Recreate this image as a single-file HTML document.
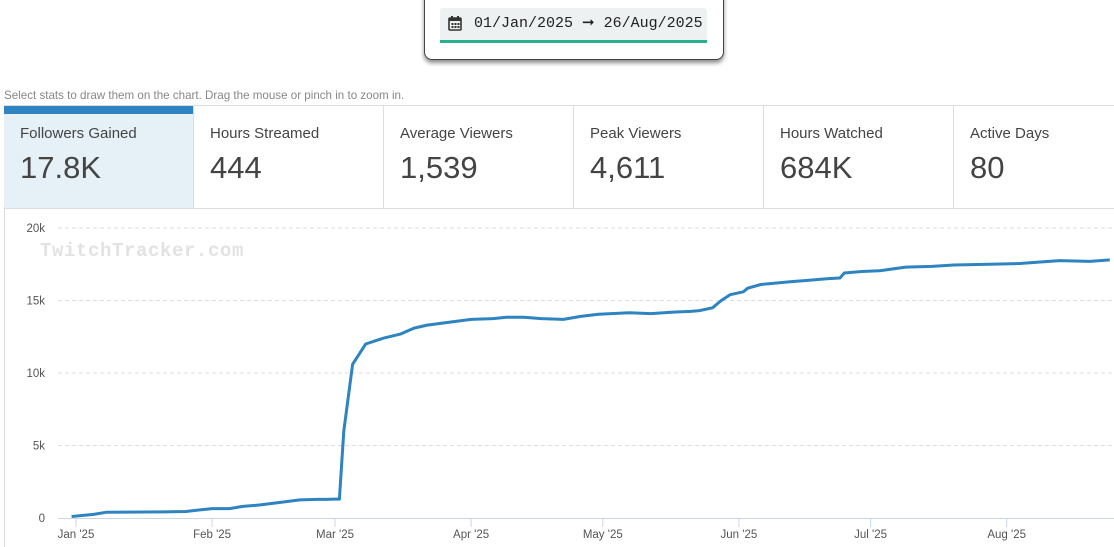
<!DOCTYPE html>
<html><head><meta charset="utf-8"><style>
body{margin:0;width:1114px;height:547px;overflow:hidden;background:#fff;font-family:"Liberation Sans",sans-serif;position:relative}
.picker{position:absolute;left:424px;top:-6px;width:298px;height:64px;border:1px solid #444;border-radius:0 0 8px 8px;box-shadow:0 3px 4px rgba(0,0,0,.45);background:#fff}
.field{position:absolute;left:15px;top:13px;width:267px;height:32px;background:#eef1f1;border-bottom:3px solid #2bb08f;border-radius:3px 3px 0 0;font-family:"Liberation Mono",monospace;font-size:15px;color:#222;line-height:32px}
.hint{position:absolute;left:4px;top:89px;font-size:11.6px;color:#888}
.cards{position:absolute;left:4px;top:105px;width:1110px;height:102px;border-top:1px solid #ddd;border-bottom:1px solid #ddd;display:flex}
.card{width:190px;border-right:1px solid #ddd;position:relative;box-sizing:border-box}
.card .t{position:absolute;left:16px;top:19px;font-size:15px;color:#444}
.card .v{position:absolute;left:16px;top:44px;font-size:31px;color:#444}
.card.sel{background:#e6f0f7}
.card.sel:before{content:"";position:absolute;left:0;top:0;right:0;height:8px;background:#2e84c0}
.chartbox{position:absolute;left:4px;top:207px;width:1110px;height:340px;border-left:1px solid #ddd}
</style></head><body>
<div class="picker">
<div class="field">
<svg style="position:absolute;left:8px;top:8px" width="14" height="15" viewBox="0 0 14 15"><rect x="1" y="2" width="12" height="12" rx="1" fill="none" stroke="#333" stroke-width="1.6"/><rect x="1" y="2" width="12" height="3" fill="#333"/><rect x="3" y="0" width="2" height="3" fill="#333"/><rect x="9" y="0" width="2" height="3" fill="#333"/><g fill="#333"><rect x="3.5" y="7" width="2" height="2"/><rect x="6.5" y="7" width="2" height="2"/><rect x="9.5" y="7" width="2" height="2"/><rect x="3.5" y="10" width="2" height="2"/><rect x="6.5" y="10" width="2" height="2"/><rect x="9.5" y="10" width="2" height="2"/></g></svg>
<span style="position:absolute;left:34px">01/Jan/2025 ➞ 26/Aug/2025</span></div></div>
<div class="hint">Select stats to draw them on the chart. Drag the mouse or pinch in to zoom in.</div>
<div class="cards">
<div class="card sel"><div class="t">Followers Gained</div><div class="v">17.8K</div></div>
<div class="card"><div class="t">Hours Streamed</div><div class="v">444</div></div>
<div class="card"><div class="t">Average Viewers</div><div class="v">1,539</div></div>
<div class="card"><div class="t">Peak Viewers</div><div class="v">4,611</div></div>
<div class="card"><div class="t">Hours Watched</div><div class="v">684K</div></div>
<div class="card" style="border-right:none;width:160px"><div class="t">Active Days</div><div class="v">80</div></div>
</div>
<div class="chartbox"></div>
<svg id="chart" width="1114" height="547" style="position:absolute;left:0;top:0"></svg>
<script>
const days=[-1,4,7,20,25,28,31,35,38,42,47,51,55,60,57,59,61,63,66,70,74,77,80,85,90,95,98,102,106,111,115,119,122,126,131,136,140,142,145,147,149,152,153,156,163,167,171,174,175,179,183,189,195,200,208,215,224,231,235.5];
const values=[0.1,0.25,0.4,0.42,0.45,0.55,0.65,0.65,0.8,0.9,1.1,1.25,1.28,1.3,1.28,1.3,6,10.6,12,12.4,12.7,13.1,13.3,13.5,13.7,13.75,13.85,13.85,13.75,13.7,13.9,14.05,14.1,14.15,14.1,14.2,14.25,14.3,14.5,15,15.4,15.6,15.85,16.1,16.3,16.4,16.5,16.55,16.9,17,17.05,17.3,17.35,17.45,17.5,17.55,17.75,17.7,17.8];
const yTicks=[0,5,10,15,20];
const yTickLabels=["0","5k","10k","15k","20k"];
const monthDays=[0,31,59,90,120,151,181,212];
const monthLabels=["Jan '25","Feb '25","Mar '25","Apr '25","May '25","Jun '25","Jul '25","Aug '25"];
const NS="http://www.w3.org/2000/svg",svg=document.getElementById('chart');
const x=d=>76+d*4.39, y=v=>518-v*14.5;
function mk(t,a){const e=document.createElementNS(NS,t);for(const k in a)e.setAttribute(k,a[k]);svg.appendChild(e);return e;}
const wm=mk('text',{x:40,y:256,'font-family':'Liberation Mono,monospace','font-size':19,'font-weight':'bold',fill:'#e2e2e2','letter-spacing':'0.6'});wm.textContent='TwitchTracker.com';


yTicks.forEach((v,i)=>{
 if(v>0){const g=mk('line',{x1:58,x2:1114,y1:y(v),y2:y(v),stroke:'#ddd','stroke-dasharray':'4,3'});
 
 }
 const t=mk('text',{x:45,y:y(v)+4,'text-anchor':'end','font-size':11.5,fill:'#555'});t.textContent=yTickLabels[i];
 
 
});
const ax=mk('line',{x1:58,x2:1114,y1:518.5,y2:518.5,stroke:'#ccd6e0'});


monthDays.forEach((d,i)=>{
 const tk=mk('line',{x1:x(d),x2:x(d),y1:519,y2:527,stroke:'#ccd6e0'});
 
 
 const t=mk('text',{x:x(d),y:538,'text-anchor':'middle','font-size':11.5,fill:'#555'});t.textContent=monthLabels[i];
 
 
});
const pts=days.map((d,i)=>[d,values[i]]).sort((a,b)=>a[0]-b[0]);
const ln=mk('path',{d:pts.map((p,i)=>(i?'L':'M')+x(p[0]).toFixed(1)+','+y(p[1]).toFixed(1)).join(''),fill:'none',stroke:'#2e84c0','stroke-width':3,'stroke-linejoin':'round'});


</script>
</body></html>
